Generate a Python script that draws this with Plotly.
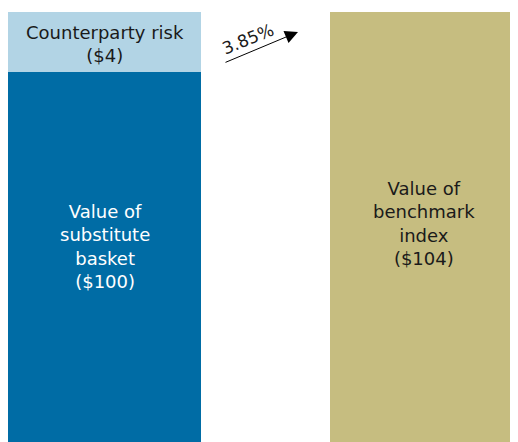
import plotly.graph_objects as go

# Data
categories = [0, 1]
substitute_basket = [100]
counterparty_risk = [4]
benchmark_index = [104]
spread_label = "3.85%"

dark_blue = "#006CA5"
light_blue = "#B2D4E5"
tan = "#C6BD80"
FONT = "DejaVu Sans"

# page has an 8px body margin; plot area spans window y 12..450
def px(xw):
    return (xw - 8) / 518

def py(yw):
    return 1 - (yw - 12) / 438

fig = go.Figure()
fig.add_trace(go.Bar(x=[categories[0]], y=substitute_basket, width=[0.604],
                     marker=dict(color=dark_blue, line=dict(width=0)), hoverinfo="skip"))
fig.add_trace(go.Bar(x=[categories[0]], y=counterparty_risk, base=substitute_basket, width=[0.604],
                     marker=dict(color=light_blue, line=dict(width=0)), hoverinfo="skip"))
fig.add_trace(go.Bar(x=[categories[1]], y=benchmark_index, width=[0.588],
                     marker=dict(color=tan, line=dict(width=0)), hoverinfo="skip"))

ann = []
ann.append(dict(x=categories[0], y=substitute_basket[0] + counterparty_risk[0] / 2, xref="x", yref="y",
                text="Counterparty risk<br>($4)", showarrow=False, yshift=-2,
                font=dict(family=FONT, size=18, color="#1a1a1a")))
ann.append(dict(x=categories[0], y=88.4, xref="x", yref="y",
                text="Value of<br>substitute<br>basket<br>($100)", showarrow=False,
                font=dict(family=FONT, size=18, color="white")))
ann.append(dict(x=categories[1], y=89.9, xref="x", yref="y",
                text="Value of<br>benchmark<br>index<br>($104)", showarrow=False,
                font=dict(family=FONT, size=18, color="#1a1a1a")))
ann.append(dict(x=px(298), y=py(32), xref="paper", yref="paper", text="",
                showarrow=True, ax=-74, ay=31,
                arrowhead=2, arrowsize=2.6, arrowwidth=1, arrowcolor="black"))
ann.append(dict(x=px(248), y=py(37), xref="paper", yref="paper", text=spread_label,
                showarrow=False, textangle=-22, yshift=20,
                font=dict(family=FONT, size=17, color="#1a1a1a")))

fig.update_layout(
    width=518, height=442,
    margin=dict(l=0, r=0, t=4, b=0),
    paper_bgcolor="white", plot_bgcolor="white",
    barmode="overlay", bargap=0, showlegend=False,
    xaxis=dict(range=[-0.302, 1.319], visible=False, fixedrange=True),
    yaxis=dict(range=[104 - 438 / 15, 104], visible=False, fixedrange=True),
    annotations=ann,
)
fig.write_html("out.html", config={"displayModeBar": False})
